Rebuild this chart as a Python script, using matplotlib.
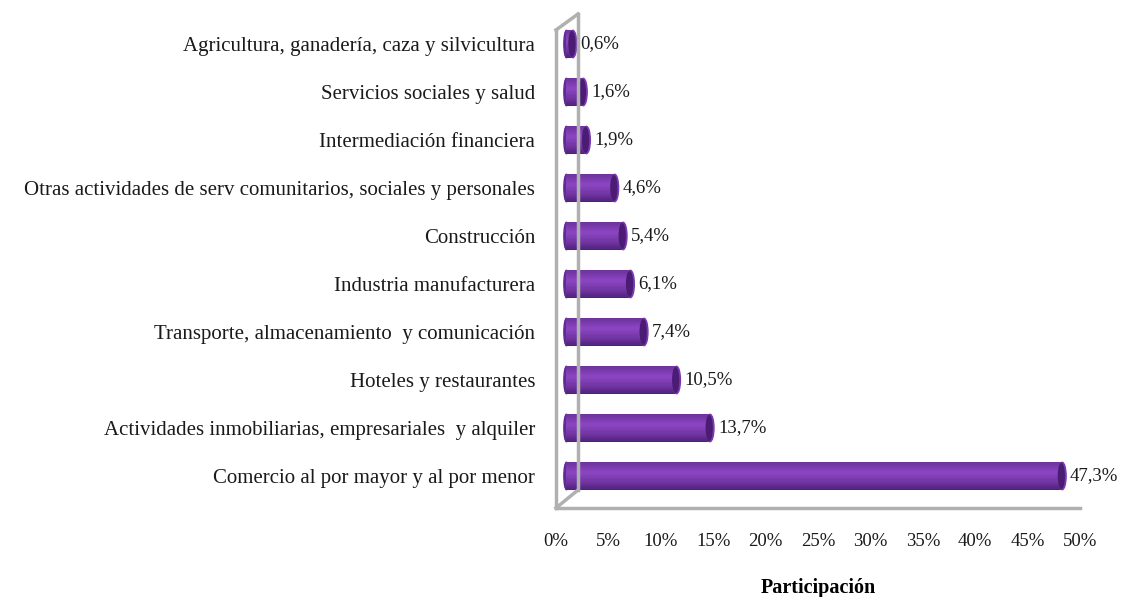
import matplotlib
matplotlib.use('Agg')
import matplotlib.pyplot as plt
import numpy as np
from matplotlib.patches import Ellipse
from matplotlib.lines import Line2D

plt.rcParams['font.family'] = ['Liberation Serif', 'DejaVu Serif']

# data, bottom to top
categories = ['Comercio al por mayor y al por menor',
              'Actividades inmobiliarias, empresariales  y alquiler',
              'Hoteles y restaurantes',
              'Transporte, almacenamiento  y comunicación',
              'Industria manufacturera',
              'Construcción',
              'Otras actividades de serv comunitarios, sociales y personales',
              'Intermediación financiera',
              'Servicios sociales y salud',
              'Agricultura, ganadería, caza y silvicultura']
values = [47.3, 13.7, 10.5, 7.4, 6.1, 5.4, 4.6, 1.9, 1.6, 0.6]
labels = ['47,3%', '13,7%', '10,5%', '7,4%', '6,1%', '5,4%', '4,6%', '1,9%', '1,6%', '0,6%']
xticks = [0, 5, 10, 15, 20, 25, 30, 35, 40, 45, 50]

W, H = 1126, 597
fig = plt.figure(figsize=(W/100, H/100), dpi=100)
ax = fig.add_axes([556/W, (H-508)/H, (1080-556)/W, (508-14)/H])
ax.set_xlim(0, 50)
ax.set_ylim(-0.667, 9.625)

off = 1.0   # front face offset (3d look)
hgt = 0.57
ys = np.arange(len(values))
vals = np.array(values)

# cylinder look: horizontal strips with a shading profile
dark = np.array([0.29, 0.12, 0.45])
light = np.array([0.55, 0.27, 0.76])
n = 24
for k in range(n):
    t = (k + 0.5) / n          # 0 = bottom, 1 = top
    w = np.clip(1 - abs(t - 0.62) / 0.62, 0, 1) ** 0.7
    c = dark + (light - dark) * w
    ax.barh(ys - hgt/2 + hgt*k/n, vals, left=off, height=hgt/n*1.05,
            align='edge', color=c, lw=0, zorder=3)
for y, v, t in zip(ys, values, labels):
    ax.add_patch(Ellipse((off, y), 0.5, hgt, color='#5f2a92', zorder=2))
    ax.add_patch(Ellipse((off + v, y), 0.75, hgt, color='#7a3aae', zorder=4))
    ax.add_patch(Ellipse((off + v - 0.08, y), 0.55, hgt*0.9, color='#4a1c74', zorder=5))
    ax.text(off + v + 0.75, y, t, va='center', ha='left', fontsize=13.5, color='#1a1a1a')

# 3d walls
g = '#b0b0b0'
for x0, y0, x1, y1 in [(556, 30, 556, 508), (556, 30, 578, 14), (578, 14, 578, 490),
                       (556, 508, 578, 490), (556, 508, 1080, 508)]:
    fig.add_artist(Line2D([x0/W, x1/W], [(H-y0)/H, (H-y1)/H], color=g, lw=2.5))

for s in ax.spines.values():
    s.set_visible(False)
ax.set_xticks(xticks)
ax.set_xticklabels([str(x) + '%' for x in xticks], fontsize=13.5)
ax.set_yticks(ys)
ax.set_yticklabels(categories, fontsize=15)
ax.tick_params(axis='x', length=0, pad=18, colors='#1a1a1a')
ax.tick_params(axis='y', length=0, pad=15, colors='#1a1a1a')
ax.set_xlabel('Participación', fontsize=14.5, fontweight='bold', labelpad=20)

fig.savefig('out.png', dpi=100)
